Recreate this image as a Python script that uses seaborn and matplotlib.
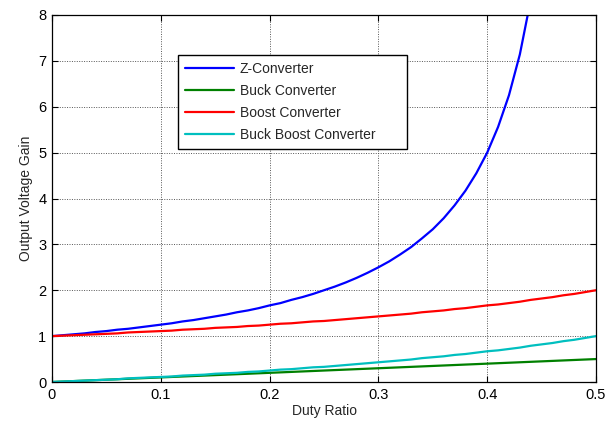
import matplotlib
matplotlib.use("Agg")
import matplotlib.pyplot as plt
import seaborn as sns
import pandas as pd

duty = [0.00, 0.01, 0.02, 0.03, 0.04, 0.05, 0.06, 0.07, 0.08, 0.09,
        0.10, 0.11, 0.12, 0.13, 0.14, 0.15, 0.16, 0.17, 0.18, 0.19,
        0.20, 0.21, 0.22, 0.23, 0.24, 0.25, 0.26, 0.27, 0.28, 0.29,
        0.30, 0.31, 0.32, 0.33, 0.34, 0.35, 0.36, 0.37, 0.38, 0.39,
        0.40, 0.41, 0.42, 0.43, 0.44, 0.45, 0.46, 0.47, 0.48, 0.49, 0.50]

z_conv = [1.00, 1.02, 1.04, 1.06, 1.09, 1.11, 1.14, 1.16, 1.19, 1.22,
          1.25, 1.28, 1.32, 1.35, 1.39, 1.43, 1.47, 1.52, 1.56, 1.61,
          1.67, 1.72, 1.79, 1.85, 1.92, 2.00, 2.08, 2.17, 2.27, 2.38,
          2.50, 2.63, 2.78, 2.94, 3.13, 3.33, 3.57, 3.85, 4.17, 4.55,
          5.00, 5.56, 6.25, 7.14, 8.33]

buck = [0.00, 0.01, 0.02, 0.03, 0.04, 0.05, 0.06, 0.07, 0.08, 0.09,
        0.10, 0.11, 0.12, 0.13, 0.14, 0.15, 0.16, 0.17, 0.18, 0.19,
        0.20, 0.21, 0.22, 0.23, 0.24, 0.25, 0.26, 0.27, 0.28, 0.29,
        0.30, 0.31, 0.32, 0.33, 0.34, 0.35, 0.36, 0.37, 0.38, 0.39,
        0.40, 0.41, 0.42, 0.43, 0.44, 0.45, 0.46, 0.47, 0.48, 0.49, 0.50]

boost = [1.00, 1.01, 1.02, 1.03, 1.04, 1.05, 1.06, 1.08, 1.09, 1.10,
         1.11, 1.12, 1.14, 1.15, 1.16, 1.18, 1.19, 1.20, 1.22, 1.23,
         1.25, 1.27, 1.28, 1.30, 1.32, 1.33, 1.35, 1.37, 1.39, 1.41,
         1.43, 1.45, 1.47, 1.49, 1.52, 1.54, 1.56, 1.59, 1.61, 1.64,
         1.67, 1.69, 1.72, 1.75, 1.79, 1.82, 1.85, 1.89, 1.92, 1.96, 2.00]

buck_boost = [0.00, 0.01, 0.02, 0.03, 0.04, 0.05, 0.06, 0.08, 0.09, 0.10,
              0.11, 0.12, 0.14, 0.15, 0.16, 0.18, 0.19, 0.20, 0.22, 0.23,
              0.25, 0.27, 0.28, 0.30, 0.32, 0.33, 0.35, 0.37, 0.39, 0.41,
              0.43, 0.45, 0.47, 0.49, 0.52, 0.54, 0.56, 0.59, 0.61, 0.64,
              0.67, 0.69, 0.72, 0.75, 0.79, 0.82, 0.85, 0.89, 0.92, 0.96, 1.00]

series_names = ["Z-Converter", "Buck Converter", "Boost Converter", "Buck Boost Converter"]
colors = ["#0000ff", "#008000", "#ff0000", "#00bfbf"]
x_ticks = [0, 0.1, 0.2, 0.3, 0.4, 0.5]
x_tick_labels = ["0", "0.1", "0.2", "0.3", "0.4", "0.5"]
y_ticks = [0, 1, 2, 3, 4, 5, 6, 7, 8]

rows = []
for name, vals in zip(series_names, [z_conv, buck, boost, buck_boost]):
    for d, v in zip(duty, vals):
        rows.append({"Duty Ratio": d, "Gain": v, "Series": name})
df = pd.DataFrame(rows)

sns.set_theme(style="white")
plt.rcParams["font.family"] = ["Liberation Sans", "DejaVu Sans"]

W, H = 615, 426
fig = plt.figure(figsize=(6.15, 4.26), dpi=100)
ax_l, ax_r, ax_t, ax_b = 52, 596, 15, 382
ax = fig.add_axes([ax_l / W, (H - ax_b) / H, (ax_r - ax_l) / W, (ax_b - ax_t) / H])

sns.lineplot(data=df, x="Duty Ratio", y="Gain", hue="Series", hue_order=series_names,
             palette=colors, linewidth=1.6, ax=ax, sort=False, estimator=None)

ax.set_xlim(0, 0.5)
ax.set_ylim(0, 8)
ax.set_xticks(x_ticks)
ax.set_xticklabels(x_tick_labels)
ax.set_yticks(y_ticks)
ax.set_xlabel("Duty Ratio", fontsize=10, labelpad=2)
ax.set_ylabel("Output Voltage Gain", fontsize=10, labelpad=4)
ax.tick_params(axis="both", direction="in", length=4, width=0.8, labelsize=10.5,
               top=True, right=True, bottom=True, left=True, colors="black", pad=4)
ax.grid(True, linestyle=(0, (1, 1.5)), color="#555555", linewidth=0.7)
for s in ax.spines.values():
    s.set_color("black")
    s.set_linewidth(0.9)

# legend box in pixels: x 178..407, y 55..148
lx0, lx1, ly0, ly1 = 178, 407, 55, 148
bx = (lx0 - ax_l) / (ax_r - ax_l)
bw = (lx1 - lx0) / (ax_r - ax_l)
by1 = (ax_b - ly0) / (ax_b - ax_t)
bh = (ly1 - ly0) / (ax_b - ax_t)
leg = ax.legend(loc="upper left", bbox_to_anchor=(bx, by1 - bh, bw, bh), mode="expand",
                fontsize=10, frameon=True, fancybox=False, shadow=False,
                handlelength=3.5, handletextpad=0.43, borderpad=0.5,
                labelspacing=0.58, borderaxespad=0)
leg.get_frame().set_edgecolor("black")
leg.get_frame().set_linewidth(1.0)
leg.get_frame().set_alpha(1)
for line in leg.get_lines():
    line.set_linewidth(1.6)

fig.savefig("out.png", dpi=100)
